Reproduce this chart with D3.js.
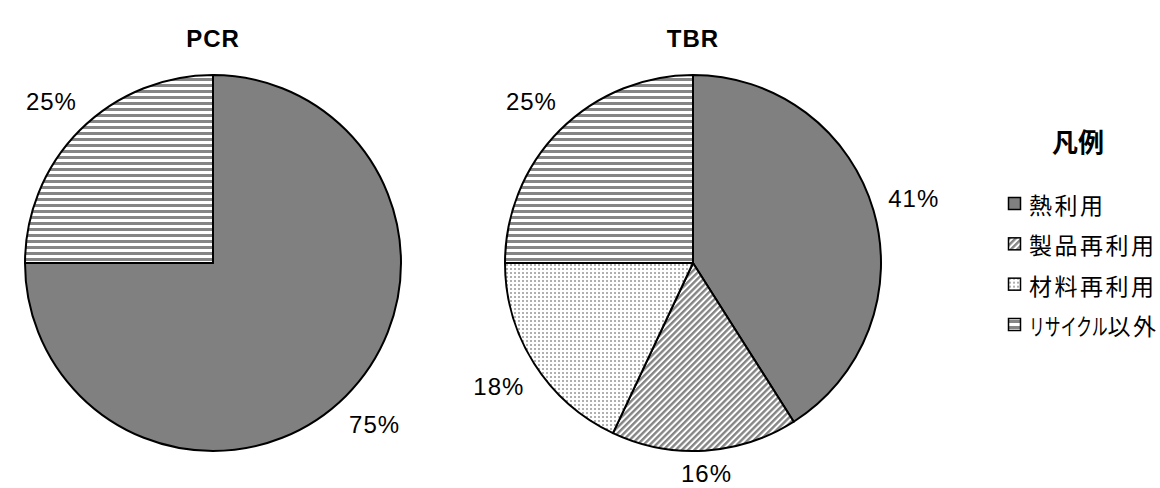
<!DOCTYPE html>
<html>
<head>
<meta charset="utf-8">
<script src="https://cdn.jsdelivr.net/npm/d3@7"></script>
<style>
  html, body { margin: 0; padding: 0; background: #fff; }
  svg { display: block; }
  text { font-family: "Liberation Sans", Arial, "Noto Sans CJK JP", sans-serif; fill: #000; }
  .jp { font-family: "Noto Sans CJK JP", sans-serif; }
</style>
</head>
<body>
<svg id="chart" width="1160" height="488"></svg>
<script>
// Tyre recycling breakdown (%), passenger-car vs truck/bus tyres
const categories = ["熱利用", "製品再利用", "材料再利用", "リサイクル以外"];
const chartTitles = ["PCR", "TBR"];
const pcrValues = [75, 0, 0, 25];
const tbrValues = [41, 16, 18, 25];
const legendTitle = "凡例";

const W = 1160, H = 488;
const svg = d3.select("#chart");
const defs = svg.append("defs");

// Fill patterns: solid grey, diagonal hatch, fine dots, horizontal stripes
const fillIds = ["fill-heat", "fill-product", "fill-material", "fill-other"];

// solid
const pHeat = defs.append("pattern").attr("id", fillIds[0])
  .attr("patternUnits", "userSpaceOnUse").attr("width", 4).attr("height", 4);
pHeat.append("rect").attr("width", 4).attr("height", 4).attr("fill", "#808080");

// diagonal "/" stripes
const pProd = defs.append("pattern").attr("id", fillIds[1])
  .attr("patternUnits", "userSpaceOnUse").attr("width", 4.4).attr("height", 10)
  .attr("patternTransform", "rotate(45)");
pProd.append("rect").attr("width", 4.4).attr("height", 10).attr("fill", "#fff");
pProd.append("rect").attr("width", 2.4).attr("height", 10).attr("fill", "#858585");

// dots
const pMat = defs.append("pattern").attr("id", fillIds[2])
  .attr("patternUnits", "userSpaceOnUse").attr("width", 4).attr("height", 4);
pMat.append("rect").attr("width", 4).attr("height", 4).attr("fill", "#fff");
pMat.append("rect").attr("x", 1).attr("y", 1).attr("width", 2).attr("height", 2).attr("fill", "#b0b0b0");

// horizontal stripes
const pOther = defs.append("pattern").attr("id", fillIds[3])
  .attr("patternUnits", "userSpaceOnUse").attr("width", 10).attr("height", 6);
pOther.append("rect").attr("width", 10).attr("height", 6).attr("fill", "#fff");
pOther.append("rect").attr("y", 1).attr("width", 10).attr("height", 3).attr("fill", "#858585");

const color = d3.scaleOrdinal().domain(categories).range(fillIds.map(id => `url(#${id})`));

const radius = 188;
const centers = d3.scalePoint().domain(chartTitles).range([213, 693]);
const cy = 263;

const pie = d3.pie().sort(null).value(d => d.value);
const arc = d3.arc().innerRadius(0).outerRadius(radius);

function drawPie(title, values) {
  const data = categories.map((c, i) => ({ cat: c, value: values[i] }));
  const g = svg.append("g").attr("transform", `translate(${centers(title)},${cy})`);
  const arcs = pie(data).filter(d => d.data.value > 0);

  g.selectAll("path").data(arcs).join("path")
    .attr("d", arc)
    .attr("fill", d => color(d.data.cat))
    .attr("stroke", "#000")
    .attr("stroke-width", 2)
    .attr("stroke-linejoin", "round");

  // Percent labels just outside the rim along each slice's bisector
  const fs = 24, gap = 14;
  g.selectAll("text.pct").data(arcs).join("text")
    .attr("class", "pct")
    .attr("font-size", fs)
    .attr("letter-spacing", 1)
    .attr("text-anchor", "middle")
    .attr("dominant-baseline", "central")
    .text(d => d.data.value + "%")
    .each(function (d) {
      const a = (d.startAngle + d.endAngle) / 2;
      const w = this.getComputedTextLength(), h = fs;
      const s = Math.sin(a), c = -Math.cos(a);
      const ext = Math.abs(s) * w / 2 + Math.abs(c) * h / 2;
      const r = radius + gap + ext;
      // keep the label inside the drawing
      const y = Math.min(c * r, H - cy - fs * 0.6);
      d3.select(this).attr("x", s * r).attr("y", y);
    });

  svg.append("text")
    .attr("x", centers(title)).attr("y", 38)
    .attr("text-anchor", "middle").attr("dominant-baseline", "central")
    .attr("font-size", 24).attr("font-weight", "bold")
    .attr("letter-spacing", 1)
    .text(title);
}

drawPie("PCR", pcrValues);
drawPie("TBR", tbrValues);

// Legend
const lg = svg.append("g").attr("transform", "translate(1008,0)");
lg.append("text").attr("class", "jp")
  .attr("x", 70).attr("y", 140)
  .attr("text-anchor", "middle").attr("dominant-baseline", "central")
  .attr("font-size", 26).attr("font-weight", "bold")
  .text(legendTitle);

const ly = d3.scalePoint().domain(categories).range([204, 325]);
const items = lg.selectAll("g.item").data(categories).join("g")
  .attr("class", "item")
  .attr("transform", d => `translate(0,${ly(d)})`);
items.append("rect")
  .attr("x", 0.5).attr("y", -6.5).attr("width", 12).attr("height", 12)
  .attr("fill", d => color(d)).attr("stroke", "#000").attr("stroke-width", 1.5);

// Entry text: kanji at full width, katakana runs set narrower (proportional-style)
const kanaRe = /([\u30A0-\u30FF]+)/;
const kanaScale = 0.69;
items.each(function (d) {
  const gItem = d3.select(this);
  let x = 21;
  d.split(kanaRe).filter(s => s.length).forEach(run => {
    const isKana = kanaRe.test(run);
    const t = gItem.append("text").attr("class", "jp")
      .attr("dominant-baseline", "central")
      .attr("font-size", 23)
      .attr("letter-spacing", isKana ? 0 : 2.5)
      .text(run);
    const sx = isKana ? kanaScale : 1;
    t.attr("transform", `translate(${x},0) scale(${sx},1)`);
    x += t.node().getComputedTextLength() * sx;
  });
});
</script>
</body>
</html>
